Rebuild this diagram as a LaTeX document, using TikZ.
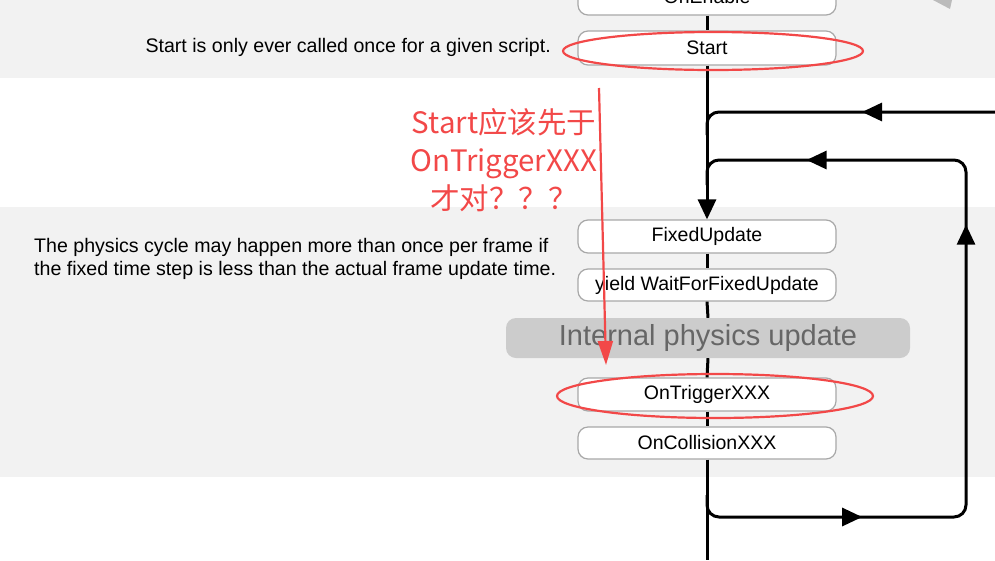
\documentclass[tikz,border=0pt]{standalone}
\usepackage{fontspec}
\setmainfont{Liberation Sans}
\newfontfamily\cjk{Noto Sans CJK SC}
\usetikzlibrary{arrows.meta,decorations.markings}
\definecolor{bandgray}{HTML}{F2F2F2}
\definecolor{boxborder}{HTML}{A8A8A8}
\definecolor{physfill}{HTML}{CCCCCC}
\definecolor{phystext}{HTML}{666666}
\definecolor{annred}{HTML}{F24848}
\definecolor{greyarrow}{HTML}{BBBBBB}
\begin{document}
\begin{tikzpicture}[x=1pt,y=-1pt,
  fnbox/.style={draw=boxborder, line width=1.2pt, fill=white, rounded corners=10pt,
    minimum width=258pt, minimum height=33pt, inner sep=0pt,
    font=\fontsize{19.5}{22}\selectfont},
  physbox/.style={fill=physfill, rounded corners=10pt, minimum width=404pt,
    minimum height=40pt, inner sep=0pt, text=phystext,
    font=\fontsize{29}{32}\selectfont},
  flow/.style={line width=3pt, black},
  ftip/.style={-{Triangle[length=20pt,width=18pt]}},
  note/.style={font=\fontsize{19.6}{23}\selectfont, inner sep=0pt},
  annot/.style={annred, line width=2.2pt}
]
\useasboundingbox (0,0) rectangle (995,560);
% background bands
\fill[bandgray] (0,0) rectangle (995,78);
\fill[bandgray] (0,207) rectangle (995,477);
% grey arrow remnant at top right
\fill[greyarrow] (933,0) -- (952,0) -- (950,9) -- cycle;

% function boxes
\node[fnbox, minimum height=36pt] (onenable) at (707,-3) {OnEnable};
\node[fnbox, minimum height=34pt] (start) at (707,48) {Start};
\node[fnbox] (fixed) at (707,236.5) {FixedUpdate};
\node[fnbox, minimum height=32pt] (yield) at (707,285) {yield WaitForFixedUpdate};
\node[physbox] (phys) at (708,338) {Internal physics update};
\node[fnbox] (trigger) at (707,394.5) {OnTriggerXXX};
\node[fnbox, minimum height=32pt] (collision) at (707,443) {OnCollisionXXX};

% side notes
\node[note, anchor=east] (startnote) at (551,47) {Start is only ever called once for a given script.};
\node[note, anchor=west, align=left] (physnote) at (34,258.5)
  {The physics cycle may happen more than once per frame if\\the fixed time step is less than the actual frame update time.};

% main flow
\coordinate (bottomend) at (707,560);
\coordinate (rightin) at (995,112);
\coordinate (j1) at (707,112);
\coordinate (j2) at (707,160);
\coordinate (loopR) at (966,160);
\coordinate (loopB) at (966,517);
\coordinate (j3) at (707,517);
\coordinate (j3a) at (707,495);

\draw[flow] (onenable.south) -- (start.north);
\draw[flow, ftip] (start.south) -- (fixed.north);
\draw[flow] (fixed.south) -- (yield.north);
\draw[flow] (yield.south) -- (phys.north);
\draw[flow] (phys.south) -- (trigger.north);
\draw[flow] (trigger.south) -- (collision.north);
\draw[flow] (collision.south) -- (bottomend);

% incoming line from the right
\draw[flow, rounded corners=12pt, postaction={decorate},
  decoration={markings, mark=at position 133pt with {\arrow{Triangle[length=20pt,width=18pt]}}}]
  (rightin) -- (j1) -- (707,135);

% physics loop
\draw[flow, rounded corners=12pt, postaction={decorate},
  decoration={markings,
    mark=at position 172pt with {\arrow{Triangle[length=20pt,width=18pt]}},
    mark=at position 563pt with {\arrow{Triangle[length=20pt,width=18pt]}},
    mark=at position 782pt with {\arrow{Triangle[length=20pt,width=18pt]}}}]
  (j3a) -- (j3) -- (loopB) -- (loopR) -- (j2) -- (707,185);

% red annotations
\draw[annot] (713,51) ellipse [x radius=150, y radius=19];
\draw[annot] (715,396) ellipse [x radius=158, y radius=22];
\coordinate (ra) at (599,88);
\coordinate (rb) at (606,365);
\draw[annot, -{Triangle[length=24pt,width=15pt]}] (ra) -- (rb);
\node[annred, font=\cjk\fontsize{29.5}{38}\selectfont, align=center, inner sep=0pt] (question) at (504,160)
  {Start应该先于\\OnTriggerXXX\\才对？？？};
\end{tikzpicture}
\end{document}
